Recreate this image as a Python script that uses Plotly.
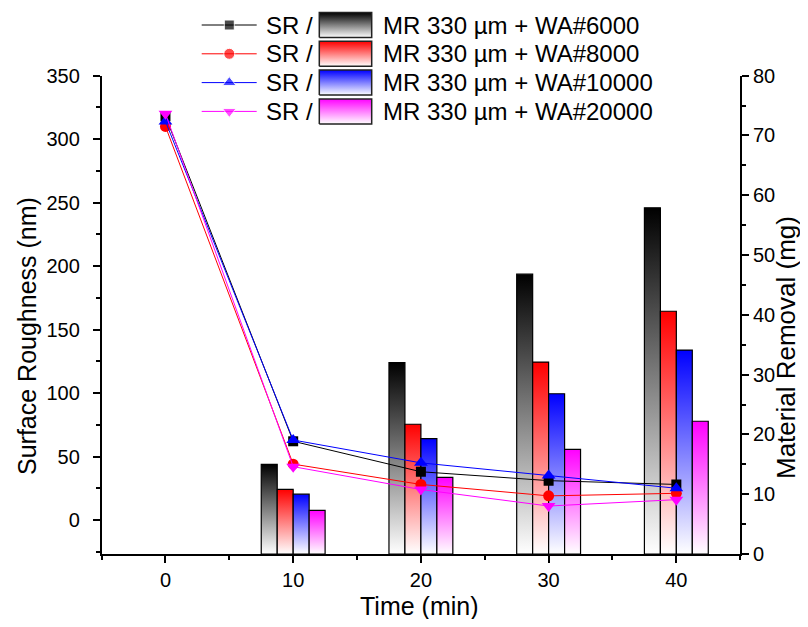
import plotly.graph_objects as go

# the page body adds an 8px margin all round, so the figure is drawn
# smaller to fit the 808x627 window without scrollbars
W, H = 800, 611
FONT = "Liberation Sans, Arial, sans-serif"

# surface roughness (nm), left axis
time_sr = [0, 10, 20, 30, 40]
sr_wa6000 = [318, 62, 38, 31, 28]
sr_wa8000 = [310, 44, 28, 19, 21]
sr_wa10000 = [314, 63, 45, 35, 25]
sr_wa20000 = [320, 42, 24, 11, 16]

# material removal (mg), right axis
time_mr = [10, 20, 30, 40]
mr_wa6000 = [15.0, 32.0, 46.8, 57.9]
mr_wa8000 = [10.8, 21.7, 32.1, 40.6]
mr_wa10000 = [10.0, 19.3, 26.8, 34.1]
mr_wa20000 = [7.3, 12.8, 17.5, 22.2]

grits = ["WA#6000", "WA#8000", "WA#10000", "WA#20000"]
sr_all = [sr_wa6000, sr_wa8000, sr_wa10000, sr_wa20000]
mr_all = [mr_wa6000, mr_wa8000, mr_wa10000, mr_wa20000]
colors = ["#000000", "#ff0000", "#0000ff", "#ff00ff"]
symbols = ["square", "circle", "triangle-up", "triangle-down"]
msizes = [10, 11, 12, 12]

bar_w = 1.25

fig = go.Figure()

# gradient bars (drawn on y, the right hand MR axis)
for i, (vals, c) in enumerate(zip(mr_all, colors)):
    off = -2 * bar_w + i * bar_w
    for t, v in zip(time_mr, vals):
        x0, x1 = t + off, t + off + bar_w
        fig.add_trace(go.Scatter(
            x=[x0, x0, x1, x1, x0], y=[0, v, v, 0, 0],
            mode="lines", fill="toself",
            fillgradient=dict(type="vertical", colorscale=[[0, "white"], [1, c]]),
            line=dict(color="black", width=1.2),
            xaxis="x", yaxis="y", showlegend=False,
            hoverinfo="skip"))

# roughness lines (y2, left axis, drawn above the bars)
for i, (vals, c) in enumerate(zip(sr_all, colors)):
    fig.add_trace(go.Scatter(
        x=time_sr, y=vals, mode="lines+markers",
        line=dict(color=c, width=1),
        marker=dict(symbol=symbols[i], size=msizes[i], color=c),
        xaxis="x", yaxis="y2", showlegend=False,
        name="SR / MR 330 µm + " + grits[i]))

# hand made legend, in a pixel sized subplot that covers the page
row0, row_gap = 17, 28.8
for i, c in enumerate(colors):
    yc = H - (row0 + i * row_gap)
    fig.add_trace(go.Scatter(
        x=[193.7, 221.3, 248.7], y=[yc, yc, yc], mode="lines+markers",
        line=dict(color=c, width=1),
        marker=dict(symbol=symbols[i], size=[0, msizes[i], 0], color=c),
        xaxis="x3", yaxis="y3", showlegend=False, hoverinfo="skip"))
    fig.add_trace(go.Scatter(
        x=[311.3, 363.7, 363.7, 311.3, 311.3],
        y=[yc - 12.5, yc - 12.5, yc + 12.5, yc + 12.5, yc - 12.5],
        mode="lines", fill="toself",
        fillgradient=dict(type="vertical", colorscale=[[0, "white"], [1, c]]),
        line=dict(color="#222222", width=1.5),
        xaxis="x3", yaxis="y3", showlegend=False, hoverinfo="skip"))
    fig.add_annotation(x=256 / W, y=yc / H, xref="paper", yref="paper",
                       text="SR /", showarrow=False, xanchor="left", yanchor="middle",
                       font=dict(size=24, color="black"))
    fig.add_annotation(x=372.7 / W, y=yc / H, xref="paper", yref="paper",
                       text="MR 330 µm + " + grits[i], showarrow=False,
                       xanchor="left", yanchor="middle",
                       font=dict(size=24, color="black"))

# axis titles
fig.add_annotation(x=411 / W, y=1 - 598 / H, xref="paper", yref="paper",
                   text="Time (min)", showarrow=False,
                   font=dict(size=25, color="black"),
                   xanchor="center", yanchor="middle")
fig.add_annotation(x=19 / W, y=1 - 328 / H, xref="paper", yref="paper",
                   text="Surface Roughness (nm)", textangle=-90, showarrow=False,
                   font=dict(size=25, color="black"),
                   xanchor="center", yanchor="middle")
fig.add_annotation(x=778 / W, y=1 - 340 / H, xref="paper", yref="paper",
                   text="Material Removal (mg)", textangle=-90, showarrow=False,
                   font=dict(size=26, color="black"),
                   xanchor="center", yanchor="middle")

axis_style = dict(showline=True, linecolor="black", linewidth=1.5,
                  ticks="outside", ticklen=7, tickwidth=1.5, tickcolor="black",
                  showgrid=False, zeroline=False, tickfont=dict(size=20),
                  fixedrange=True)

x_dom = [93.6 / W, 732.2 / W]
y_dom = [(H - 546) / H, (H - 67.7) / H]

fig.update_layout(
    width=W, height=H, template="none",
    margin=dict(l=0, r=0, t=0, b=0),
    paper_bgcolor="white", plot_bgcolor="rgba(0,0,0,0)",
    font=dict(family=FONT, color="black"),
    showlegend=False,
    xaxis=dict(domain=x_dom, range=[-5, 45], anchor="y", tick0=0, dtick=10,
               minor=dict(ticks="outside", ticklen=4, tickwidth=1.5,
                          tickcolor="black", dtick=5, tick0=0),
               ticklabelstandoff=0, **axis_style),
    yaxis=dict(domain=y_dom, range=[0, 80], anchor="x", side="right",
               tick0=0, dtick=10,
               minor=dict(ticks="outside", ticklen=4, tickwidth=1.5,
                          tickcolor="black", dtick=5, tick0=0),
               ticklabelstandoff=0, **axis_style),
    yaxis2=dict(range=[-26.8, 350], overlaying="y", anchor="x", side="left",
                tick0=0, dtick=50,
                minor=dict(ticks="outside", ticklen=4, tickwidth=1.5,
                           tickcolor="black", dtick=25, tick0=0),
                ticklabelstandoff=9, **axis_style),
    xaxis3=dict(domain=[0, 1], range=[0, W], anchor="y3", visible=False,
                fixedrange=True),
    yaxis3=dict(domain=[0, 1], range=[0, H], anchor="x3", visible=False,
                fixedrange=True),
)

fig.write_html("out.html")
